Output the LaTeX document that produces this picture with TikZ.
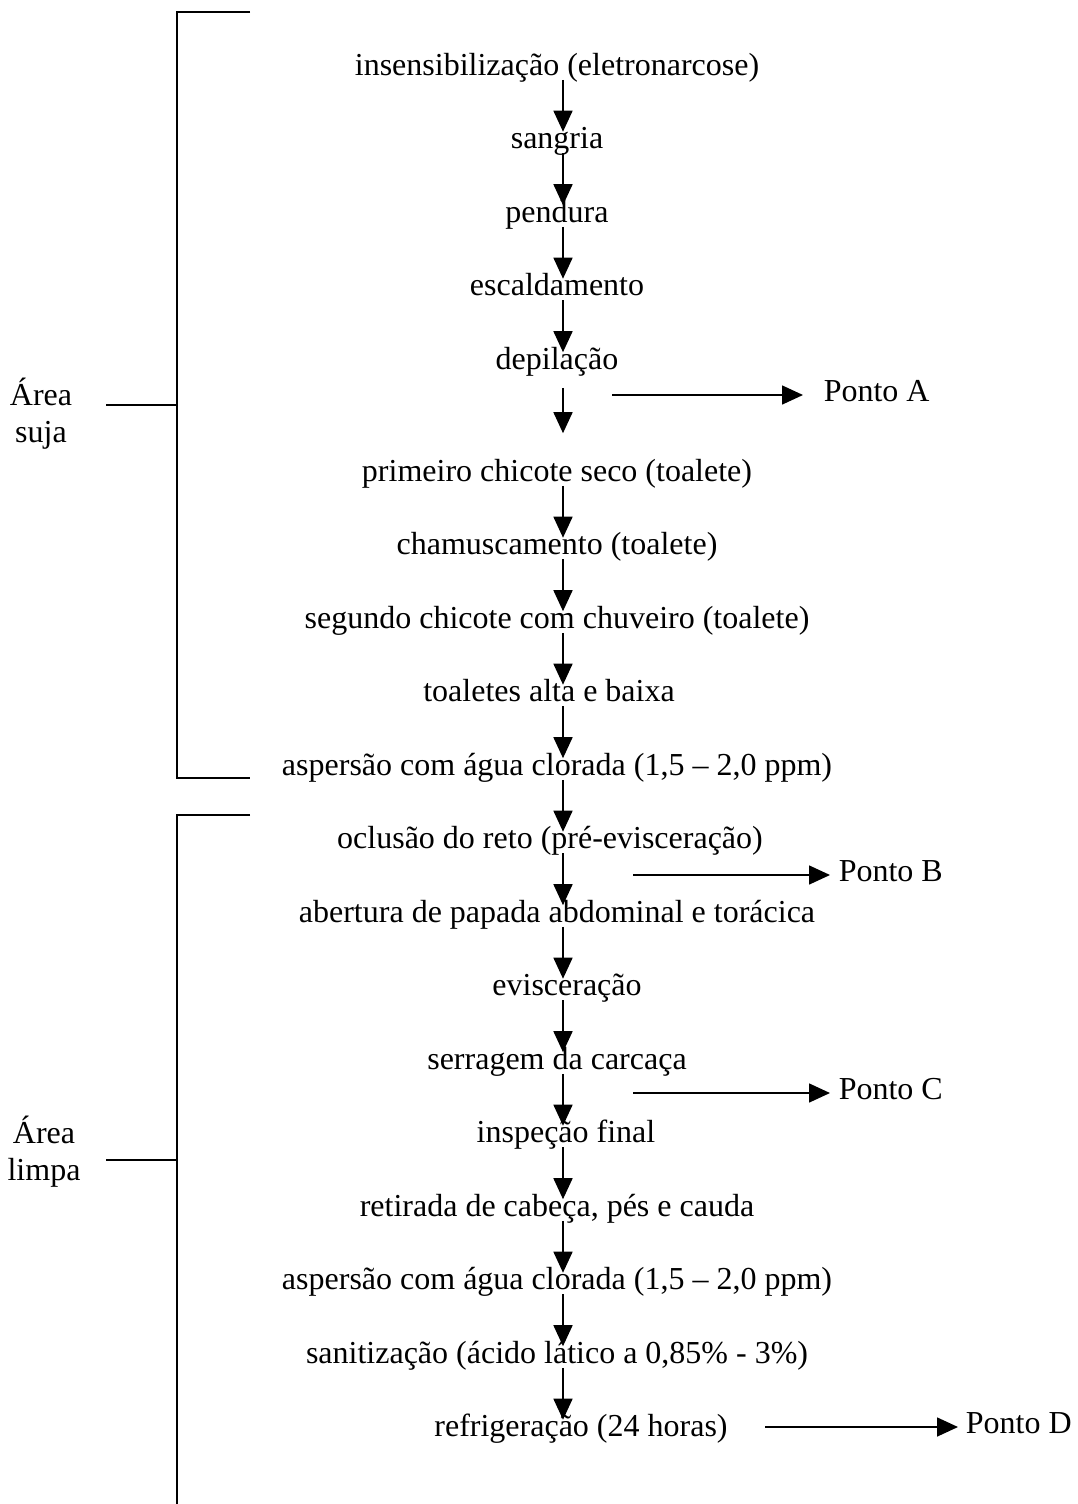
\documentclass[tikz,border=0pt]{standalone}
\usepackage{fontspec}
\setmainfont{Liberation Serif}
\usetikzlibrary{arrows.meta,positioning}

\begin{document}
\begin{tikzpicture}[x=1pt,y=-1pt,->,>={Triangle[length=21pt,width=19pt]},line width=1.6pt,node distance=73.5pt]
	\tikzstyle{etapa}=[inner sep=0pt, text height=16pt, text depth=4pt, font=\fontsize{32}{37}\selectfont]
	\tikzstyle{ponto}=[etapa, anchor=west]
	\tikzstyle{area}=[inner sep=0pt, align=center, font=\fontsize{32}{37}\selectfont]
	\tikzstyle{every edge}=[draw, line width=1.6pt]
	
	\useasboundingbox (0,0) rectangle (1078,1504);
	\coordinate (ax) at (563,0);
	
	\node[etapa] (1) at (557,69) {insensibilização (eletronarcose)};
	\node[etapa] (2) [below of=1] {sangria};
	\node[etapa] (3) [below of=2] {pendura};
	\node[etapa] (4) [below of=3] {escaldamento};
	\node[etapa] (5) [below of=4] {depilação};
	\node[etapa] (6) [below of=5, yshift=-38.5pt] {primeiro chicote seco (toalete)};
	\node[etapa] (7) [below of=6] {chamuscamento (toalete)};
	\node[etapa] (8) [below of=7] {segundo chicote com chuveiro (toalete)};
	\node[etapa] (9) [below of=8, xshift=-8pt] {toaletes alta e baixa};
	\node[etapa] (10) [below of=9, xshift=8pt] {aspersão com água clorada (1,5 – 2,0 ppm)};
	\node[etapa] (11) [below of=10, xshift=-7pt] {oclusão do reto (pré-evisceração)};
	\node[etapa] (12) [below of=11, xshift=7pt] {abertura de papada abdominal e torácica};
	\node[etapa] (13) [below of=12, xshift=10pt] {evisceração};
	\node[etapa] (14) [below of=13, xshift=-10pt] {serragem da carcaça};
	\node[etapa] (15) [below of=14, xshift=9pt] {inspeção final};
	\node[etapa] (16) [below of=15, xshift=-9pt] {retirada de cabeça, pés e cauda};
	\node[etapa] (17) [below of=16] {aspersão com água clorada (1,5 – 2,0 ppm)};
	\node[etapa] (18) [below of=17] {sanitização (ácido lático a 0,85\% - 3\%)};
	\node[etapa] (19) [below of=18, xshift=24pt] {refrigeração (24 horas)};
	
	\node[ponto] (A) at (823,395) {Ponto A};
	\node[ponto] (B) at (838,875) {Ponto B};
	\node[ponto] (C) at (838,1093) {Ponto C};
	\node[ponto] (D) at (965,1427) {Ponto D};
	\coordinate (a) at (612,395);
	\coordinate (b) at (633,875);
	\coordinate (c) at (633,1093);
	\coordinate (d) at (765,1427);
	
	\foreach \i/\j in {1/2,2/3,3/4,4/5,6/7,7/8,8/9,9/10,10/11,11/12,12/13,13/14,14/15,15/16,16/17,17/18,18/19}
		\path (\i.south -| ax) edge (\j.north -| ax);
	\path (5.south -| ax) edge[shorten <=14pt, shorten >=31pt] (6.north -| ax);
	
	\path (a) edge[shorten >=20pt] (A);
	\path (b) edge[shorten >=8pt] (B);
	\path (c) edge[shorten >=8pt] (C);
	\path (d) edge[shorten >=7pt] (D);
	
	\node[area] (suja) at (41,414) {Área\\suja};
	\node[area] (limpa) at (44,1152) {Área\\limpa};
	\draw[-] (250,12) -| (177,778) -- (250,778);
	\draw[-] (106,405) -- (177,405);
	\draw[-] (250,815) -| (177,1504);
	\draw[-] (106,1160) -- (177,1160);
	
\end{tikzpicture}
\end{document}
